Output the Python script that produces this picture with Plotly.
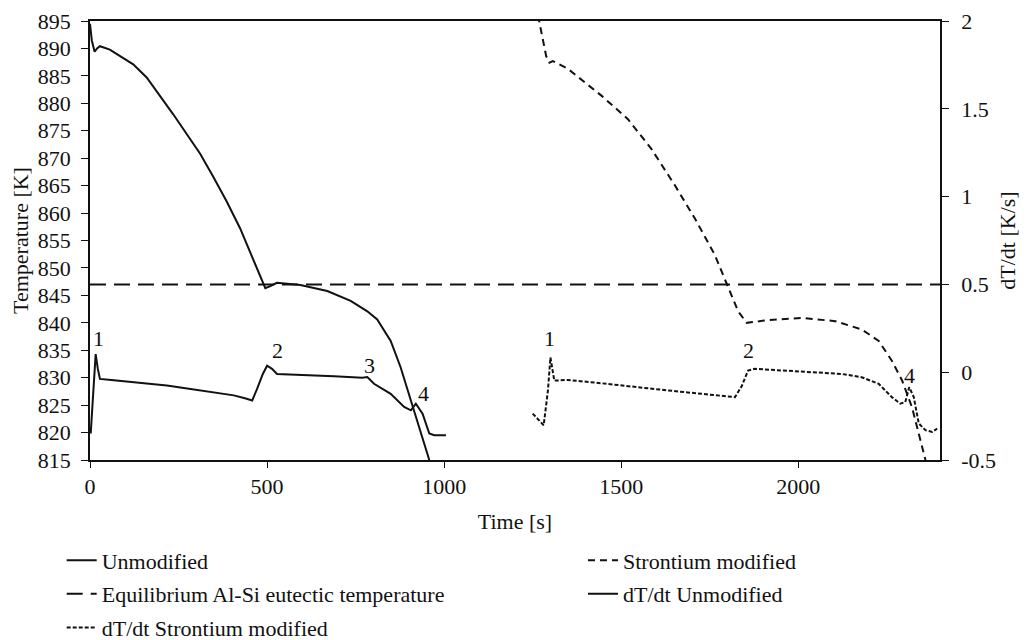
import plotly.graph_objects as go

# ---- data ----
unmod_time = [0, 5, 13, 20, 28, 56, 85, 122, 160, 198, 235, 273, 311, 348, 386, 424, 452, 480,
              495, 509, 528, 594, 670, 736, 783, 811, 849, 877, 906, 934, 958]
unmod_temp = [894.5, 891.5, 889.4, 890.0, 890.4, 889.8, 888.6, 887.1, 884.7, 881.4, 878.0, 874.4,
              870.8, 866.6, 862.1, 857.2, 853.0, 848.5, 846.3, 846.7, 847.3, 846.9, 845.8, 844.0,
              842.1, 840.6, 836.7, 831.9, 825.9, 819.8, 815.0]

sr_time = [1265, 1288, 1297, 1307, 1349, 1444, 1519, 1585, 1651, 1708, 1764, 1802, 1830, 1854,
           1915, 2010, 2104, 2179, 2227, 2264, 2293, 2321, 2340, 2359]
sr_temp = [896.0, 888.6, 887.4, 887.7, 886.3, 881.4, 877.1, 871.7, 865.1, 859.0, 852.4, 846.4,
           842.1, 840.0, 840.5, 840.9, 840.3, 838.8, 836.7, 833.1, 829.5, 824.6, 819.8, 815.0]

eut_time = [0, 2400]
eut_temp = [847, 847]

dunmod_time = [2, 9, 16, 22, 28, 60, 123, 170, 217, 265, 311, 360, 406, 440, 458, 472, 488, 500,
               514, 528, 594, 689, 769, 783, 802, 849, 887, 906, 920, 939, 958, 972, 1005]
dunmod_val = [-0.349, -0.10, 0.103, 0.02, -0.038, -0.045, -0.057, -0.066, -0.076, -0.090, -0.104,
              -0.118, -0.132, -0.150, -0.161, -0.094, -0.010, 0.037, 0.019, -0.010, -0.014, -0.023,
              -0.032, -0.028, -0.066, -0.123, -0.198, -0.217, -0.179, -0.236, -0.349, -0.359, -0.359]

dsr_time = [1250, 1264, 1281, 1293, 1300, 1311, 1349, 1444, 1538, 1632, 1727, 1821, 1840, 1858,
            1877, 1962, 2057, 2123, 2179, 2227, 2264, 2288, 2302, 2313, 2326, 2340, 2359, 2378, 2392]
dsr_val = [-0.236, -0.264, -0.302, -0.104, 0.084, -0.048, -0.044, -0.063, -0.085, -0.104, -0.123,
           -0.142, -0.080, 0.009, 0.019, 0.009, -0.001, -0.010, -0.029, -0.066, -0.142, -0.179,
           -0.170, -0.085, -0.142, -0.292, -0.330, -0.340, -0.321]

# peak labels (text, time, dT/dt)
peak_text = ["1", "2", "3", "4", "1", "2", "4"]
peak_time = [23, 529, 790, 943, 1296, 1860, 2315]
peak_val = [0.19, 0.122, 0.037, -0.121, 0.19, 0.122, -0.019]

x_ticks = [0, 500, 1000, 1500, 2000]
y_ticks = [815, 820, 825, 830, 835, 840, 845, 850, 855, 860, 865, 870, 875, 880, 885, 890, 895]
y2_ticks = [-0.5, 0, 0.5, 1, 1.5, 2]
y2_ticktext = ["-0.5", "0", "0.5", "1", "1.5", "2"]

FONT = "Liberation Serif, Times New Roman, Times, DejaVu Serif, serif"
FS = 22
BLACK = "#111111"

fig = go.Figure()
fig.add_trace(go.Scatter(x=unmod_time, y=unmod_temp, mode="lines", name="Unmodified",
                         line=dict(color=BLACK, width=2), legend="legend", legendgroup="a"))
fig.add_trace(go.Scatter(x=sr_time, y=sr_temp, mode="lines", name="Strontium modified",
                         line=dict(color=BLACK, width=2, dash="7px,5px"), legend="legend2",
                         legendgroup="b"))
fig.add_trace(go.Scatter(x=eut_time, y=eut_temp, mode="lines",
                         name="Equilibrium Al-Si eutectic temperature",
                         line=dict(color=BLACK, width=2, dash="16px,8px"), legend="legend",
                         legendgroup="c"))
fig.add_trace(go.Scatter(x=dunmod_time, y=dunmod_val, mode="lines", name="dT/dt Unmodified",
                         yaxis="y2", line=dict(color=BLACK, width=2), legend="legend2",
                         legendgroup="d"))
fig.add_trace(go.Scatter(x=dsr_time, y=dsr_val, mode="lines", name="dT/dt Strontium modified",
                         yaxis="y2", line=dict(color=BLACK, width=2, dash="4px,2px"),
                         legend="legend", legendgroup="e"))

for t, x, y in zip(peak_text, peak_time, peak_val):
    fig.add_annotation(x=x, y=y, xref="x", yref="y2", text=t, showarrow=False,
                       font=dict(family=FONT, size=FS, color=BLACK))

axis_font = dict(family=FONT, size=FS, color=BLACK)
legend_style = dict(yanchor="top", xanchor="left", orientation="v",
                    font=dict(family=FONT, size=FS, color=BLACK), bgcolor="rgba(0,0,0,0)",
                    tracegroupgap=2, itemwidth=30)
fig.update_layout(
    width=1020, height=660,
    margin=dict(l=82, r=88, t=13, b=208, autoexpand=False),
    paper_bgcolor="white", plot_bgcolor="white",
    font=dict(family=FONT, size=FS, color=BLACK),
    xaxis=dict(range=[0, 2400], tickvals=x_ticks, ticks="outside", ticklen=6, tickcolor=BLACK,
               showline=True, linecolor=BLACK, linewidth=1.5, mirror=True, showgrid=False,
               zeroline=False, tickfont=axis_font, ticklabelstandoff=0, automargin=False,
               title=dict(text="Time [s]", font=axis_font, standoff=15)),
    yaxis=dict(range=[815, 895], tickvals=y_ticks, ticks="outside", ticklen=7, tickcolor=BLACK,
               showline=True, linecolor=BLACK, linewidth=1.5, showgrid=False, zeroline=False,
               tickfont=axis_font, ticklabelstandoff=6, ticklabeloverflow="allow",
               automargin=False,
               title=dict(text="Temperature [K]", font=axis_font, standoff=9)),
    yaxis2=dict(range=[-0.5, 2], tickvals=y2_ticks, ticktext=y2_ticktext, overlaying="y",
                side="right", ticks="outside", ticklen=7, tickcolor=BLACK, showline=True,
                linecolor=BLACK, linewidth=1.5, showgrid=False, zeroline=False,
                tickfont=axis_font, ticklabelstandoff=8, ticklabeloverflow="allow",
                automargin=False,
                title=dict(text="dT/dt [K/s]", font=axis_font, standoff=5)),
    legend=dict(x=-0.0333, y=-0.181, **legend_style),
    legend2=dict(x=0.58, y=-0.181, **legend_style),
    showlegend=True,
)

fig.write_html("out.html")
